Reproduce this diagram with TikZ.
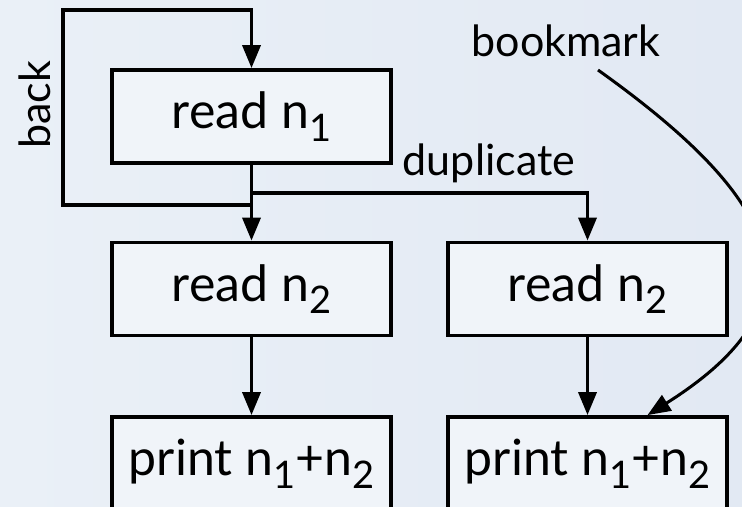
\documentclass[tikz,border=0pt]{standalone}
\usepackage{fontspec}
\setmainfont{Lato}
\usetikzlibrary{arrows.meta}
\definecolor{bgleft}{HTML}{EAF0F7}
\definecolor{bgright}{HTML}{E2E9F3}
\definecolor{boxfill}{HTML}{F0F4F9}
\newcommand{\idx}[1]{\raisebox{-0.5ex}{\fontsize{19}{19}\selectfont #1}}
\tikzset{
  stage/.style={draw, line width=1.9pt, fill=boxfill, minimum width=139.5pt,
    minimum height=46.5pt, inner sep=0pt, font=\fontsize{25}{25}\selectfont},
  note/.style={font=\fontsize{21.5}{21.5}\selectfont, inner sep=0pt},
  flow/.style={line width=1.8pt, -{Triangle[length=11.5pt,width=9pt]}}
}
\begin{document}
\begin{tikzpicture}[x=0.5pt,y=-0.5pt]
      \shade[left color=bgleft, right color=bgright] (0,0) rectangle (742,507);
      \useasboundingbox (0,0) rectangle (742,507);
      \draw
        (251.5,116.5) node[stage] (r1){read n\idx{1}}
        (251.5,289) node[stage] (l2){read n\idx{2}}
        (251.5,463.5) node[stage] (lp){print n\idx{1}+n\idx{2}}
        (587.5,289) node[stage] (r2){read n\idx{2}}
        (587.5,463.5) node[stage] (rp){print n\idx{1}+n\idx{2}};
      \path
        (35,105) node[note, rotate=90] (back){back}
        (489,163) node[note] (dup){duplicate}
        (566,41) node[note] (bm){bookmark};
      \coordinate (backjoin) at (251.5,205);
      \coordinate (dupjoin) at (251.5,193);
      \coordinate (loopcorner) at (63,10);
      \coordinate (bmtail) at (598,70);
      \begin{scope}[flow]
        \draw (r1) to (l2);
        \draw (l2) to (lp);
        \draw (r2) to (rp);
        \draw (dupjoin) -| (r2);
        \draw (backjoin) -| (loopcorner) -| (r1);
        \draw[line width=1.5pt] (bmtail) .. controls (780,200) and (830,300) .. ([xshift=30pt]rp.north);
      \end{scope}
    \end{tikzpicture}
\end{document}
